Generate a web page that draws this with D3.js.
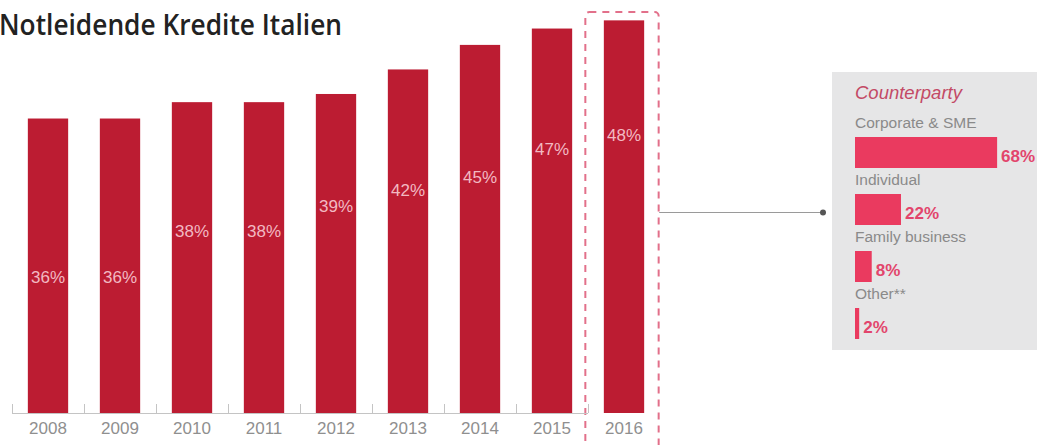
<!DOCTYPE html>
<html>
<head>
<meta charset="utf-8">
<script src="https://cdn.jsdelivr.net/npm/d3@7"></script>
<style>
  html, body { margin: 0; padding: 0; background: #fff; overflow: hidden; }
  svg { display: block; }
</style>
</head>
<body>
<svg id="chart" width="1037" height="445"></svg>
<script>
// Non-performing loan ratio by year
const years = ["2008", "2009", "2010", "2011", "2012", "2013", "2014", "2015", "2016"];
const ratios = [36, 36, 38, 38, 39, 42, 45, 47, 48];

// 2016 breakdown by counterparty
const counterparties = ["Corporate & SME", "Individual", "Family business", "Other**"];
const shares = [68, 22, 8, 2];

// Layout: how far each value label sits below its bar top (px)
const valueLabelDrop = [159, 159, 129, 129, 112, 121, 132, 121, 115];

const svg = d3.select("#chart");
const font = "'Liberation Sans', Arial, sans-serif";

const baseY = 413;
const x = d3.scaleBand().domain(years).range([12, 660]).paddingInner(0.44).paddingOuter(0.22);
const y = d3.scaleLinear().domain([0, 50]).range([baseY, 4]);

// Title
svg.append("text")
  .attr("x", -1).attr("y", 35)
  .attr("font-family", "'Open Sans', sans-serif")
  .attr("font-weight", 600)
  .attr("font-size", 29)
  .attr("fill", "#222")
  .attr("textLength", 343)
  .attr("lengthAdjust", "spacingAndGlyphs")
  .text("Notleidende Kredite Italien");

// Highlight frame around the latest year
const hx = x("2016");
svg.append("rect")
  .attr("x", hx - 18.5).attr("y", 12)
  .attr("width", x.bandwidth() + 33).attr("height", 445)
  .attr("rx", 4)
  .attr("fill", "none")
  .attr("stroke", "#e2708a")
  .attr("stroke-width", 2)
  .attr("stroke-dasharray", "7 6");

// Bars
svg.append("g").selectAll("rect")
  .data(years)
  .join("rect")
  .attr("x", d => x(d))
  .attr("y", (d, i) => y(ratios[i]))
  .attr("width", x.bandwidth())
  .attr("height", (d, i) => baseY - y(ratios[i]))
  .attr("fill", "#bc1c32");

// Value labels inside bars
svg.append("g").selectAll("text")
  .data(years)
  .join("text")
  .attr("x", d => x(d) + x.bandwidth() / 2)
  .attr("y", (d, i) => y(ratios[i]) + valueLabelDrop[i])
  .attr("dy", "0.35em")
  .attr("text-anchor", "middle")
  .attr("font-family", font)
  .attr("font-size", 17)
  .attr("fill", "#f2b9c2")
  .text((d, i) => ratios[i] + "%");

// Baseline with ticks between categories
const step = x.step();
const axisG = svg.append("g");
axisG.append("line")
  .attr("x1", 12).attr("x2", x("2016") - (step - x.bandwidth()) / 2)
  .attr("y1", baseY + 0.5).attr("y2", baseY + 0.5)
  .attr("stroke", "#c4c4c4");
axisG.selectAll("line.tick")
  .data(years)
  .join("line")
  .attr("class", "tick")
  .attr("x1", d => Math.round(x(d) - (step - x.bandwidth()) / 2) + 0.5)
  .attr("x2", d => Math.round(x(d) - (step - x.bandwidth()) / 2) + 0.5)
  .attr("y1", baseY - 9).attr("y2", baseY)
  .attr("stroke", "#c4c4c4");

// Year labels
const xAxis = svg.append("g")
  .attr("transform", `translate(0,${baseY})`)
  .call(d3.axisBottom(x).tickSize(0).tickPadding(9));
xAxis.select(".domain").remove();
xAxis.selectAll("text")
  .attr("font-family", font)
  .attr("font-size", 17)
  .attr("fill", "#8f8f8f");

// Connector to the breakdown panel
svg.append("line")
  .attr("x1", hx + x.bandwidth() + 15).attr("x2", 823)
  .attr("y1", 212.5).attr("y2", 212.5)
  .attr("stroke", "#9a9a9a").attr("stroke-width", 1);

// Breakdown panel
svg.append("rect")
  .attr("x", 832).attr("y", 72)
  .attr("width", 220).attr("height", 278)
  .attr("fill", "#e6e6e7");

svg.append("circle")
  .attr("cx", 823).attr("cy", 212.5).attr("r", 3)
  .attr("fill", "#555");

svg.append("text")
  .attr("x", 855).attr("y", 99)
  .attr("font-family", font)
  .attr("font-style", "italic")
  .attr("font-size", 18.5)
  .attr("fill", "#c34a66")
  .text("Counterparty");

const px = d3.scaleLinear().domain([0, 100]).range([855, 1064]);
const rowY = d3.scalePoint().domain(counterparties).range([137, 308]);

const rows = svg.append("g").selectAll("g")
  .data(counterparties)
  .join("g")
  .attr("transform", d => `translate(0,${rowY(d)})`);

rows.append("text")
  .attr("x", 855).attr("y", -9)
  .attr("font-family", font)
  .attr("font-size", 15.5)
  .attr("fill", "#8a8a8a")
  .text(d => d);

rows.append("rect")
  .attr("x", px(0)).attr("y", 0)
  .attr("width", (d, i) => px(shares[i]) - px(0))
  .attr("height", 31)
  .attr("fill", "#ea3a5f");

rows.append("text")
  .attr("x", (d, i) => px(shares[i]) + 4)
  .attr("y", 19)
  .attr("dy", "0.35em")
  .attr("font-family", font)
  .attr("font-size", 17)
  .attr("font-weight", 600)
  .attr("fill", "#e2456c")
  .text((d, i) => shares[i] + "%");
</script>
</body>
</html>
